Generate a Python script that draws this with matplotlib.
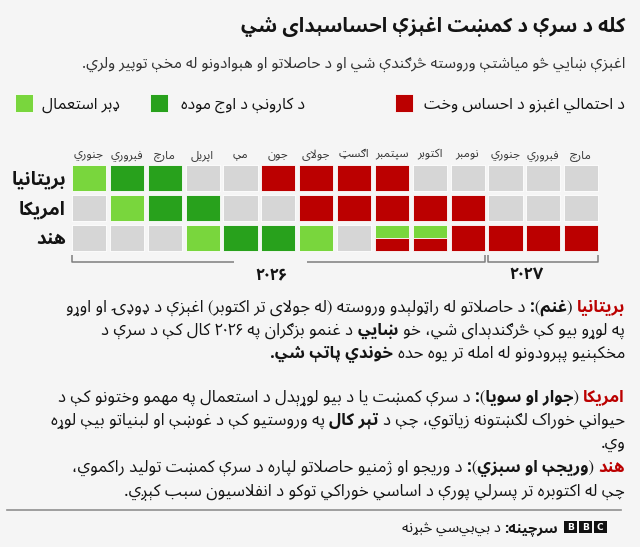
import re, os, unicodedata
import numpy as np
import matplotlib
matplotlib.use("Agg")
import matplotlib.pyplot as plt
from matplotlib import font_manager
from matplotlib.ft2font import FT2Font
from matplotlib.lines import Line2D
from matplotlib.patches import Rectangle

# ---------------- data ----------------
title = "کله د سرې د کمښت اغېزې احساسېدای شي"
subtitle = "اغېزې ښايي څو مياشتې وروسته څرګندې شي او د حاصلاتو او هېوادونو له مخې توپير ولري."
legend_labels = ["د احتمالي اغېزو د احساس وخت", "د کارونې د اوج موده", "ډېر استعمال"]
countries = ["بريتانيا", "امريکا", "هند"]
months = ["جنوري", "فبروري", "مارچ", "اپريل", "مې", "جون", "جولای", "اګسټ",
          "سپتمبر", "اکتوبر", "نومبر", "جنوري", "فبروري", "مارچ"]
years = ["۲۰۲۶", "۲۰۲۷"]
year_months = [11, 3]
# 0 = none, 1 = heavy use, 2 = peak use, 3 = impact felt, 4 = heavy use + impact
status_uk = [1, 2, 2, 0, 0, 3, 3, 3, 3, 0, 0, 0, 0, 0]
status_us = [0, 1, 2, 2, 0, 0, 3, 3, 3, 3, 3, 0, 0, 0]
status_in = [0, 0, 0, 1, 2, 2, 1, 0, 4, 4, 3, 3, 3, 3]
para_uk = [
    [("بريتانيا", "r"), (" (غنم):", "b"), (" د حاصلاتو له راټولېدو وروسته (له جولای تر اکتوبر) اغېزې د ډوډۍ او اوړو", "n")],
    [("په لوړو بيو کې څرګندېدای شي، خو ", "n"), ("ښايي", "b"), (" د غنمو بزګران په ۲۰۲۶ کال کې د سرې د", "n")],
    [("مخکېنيو پېرودونو له امله تر يوه حده ", "n"), ("خوندي پاتې شي.", "b")],
]
para_us = [
    [("امريکا", "r"), (" (جوار او سويا):", "b"), (" د سرې کمښت يا د بيو لوړېدل د استعمال په مهمو وختونو کې د", "n")],
    [("حيواني خوراک لګښتونه زياتوي، چې د ", "n"), ("تېر کال", "b"), (" په وروستيو کې د غوښې او لبنياتو بيې لوړه", "n")],
    [("وي.", "n")],
]
para_in = [
    [("هند", "r"), (" (وريجې او سبزي):", "b"), (" د وريجو او ژمنيو حاصلاتو لپاره د سرې کمښت توليد راکموي،", "n")],
    [("چې له اکتوبره تر پسرلي پورې د اساسي خوراکي توکو د انفلاسيون سبب کېږي.", "n")],
]
source = [("سرچينه:", "b"), (" د بي\u200cبي\u200cسي څېړنه", "n")]

# ---------------- colours ----------------
BG = "#f5f5f5"
RED = "#bb0000"
DARK = "#28a11c"
LIGHT = "#79d63d"
GRAY = "#d6d6d6"
INK = "#141414"

# ---------------- Arabic shaping ----------------
ALL = [title, subtitle] + legend_labels + countries + months + years
for p in (para_uk, para_us, para_in, [source]):
    for line in p:
        ALL += [s for s, _ in line]
NEED = sorted({c for s in ALL for c in s if 0x0600 <= ord(c) <= 0x06FF})
RIGHT_JOIN = set("اآأإٱدذرزژوؤډړږۍةۀەۇۆۈۋۅۉ")


def jtype(c):
    o = ord(c)
    if c in RIGHT_JOIN:
        return "R"
    if c == "ء":
        return "U"
    if 0x0620 <= o <= 0x064A or 0x066E <= o <= 0x06D3:
        return "D"
    return "U"


# Unicode presentation forms, derived from the Unicode database
PRES, PRES_LA = {}, {}
_tags = {"initial": "init", "medial": "medi", "final": "fina", "isolated": "isol"}
for cp in list(range(0xFB50, 0xFE00)) + list(range(0xFE70, 0xFF00)):
    d = unicodedata.decomposition(chr(cp))
    m = re.match(r"<(initial|medial|final|isolated)> ([0-9A-F]{4})$", d)
    if m:
        PRES.setdefault(chr(int(m.group(2), 16)), {}).setdefault(_tags[m.group(1)], cp)
        continue
    m = re.match(r"<(isolated|final)> 0644 ([0-9A-F]{4})$", d)
    if m:
        PRES_LA.setdefault((chr(int(m.group(2), 16)), m.group(1) == "final"), cp)


def open_font(path):
    from fontTools.ttLib import TTFont
    kw = {"fontNumber": 0} if path.lower().endswith((".ttc", ".otc")) else {}
    return TTFont(path, **kw)


def gsub_maps(tt):
    single = {t: {} for t in ("init", "medi", "fina")}
    ligs = {}
    if "GSUB" not in tt:
        return single, ligs
    gsub = tt["GSUB"].table
    if gsub.FeatureList is None:
        return single, ligs

    def lookups(tag):
        res = []
        for fr in gsub.FeatureList.FeatureRecord:
            if fr.FeatureTag == tag:
                for li in fr.Feature.LookupListIndex:
                    if li not in res:
                        res.append(li)
        return res

    def subtables(li):
        lk = gsub.LookupList.Lookup[li]
        for st in lk.SubTable:
            if lk.LookupType == 7:
                yield st.ExtensionLookupType, st.ExtSubTable
            else:
                yield lk.LookupType, st

    for tag in single:
        for li in lookups(tag):
            for typ, st in subtables(li):
                if typ == 1:
                    for k, v in st.mapping.items():
                        single[tag].setdefault(k, v)
    for tag in ("rlig", "liga"):
        for li in lookups(tag):
            for typ, st in subtables(li):
                if typ == 4:
                    for first, L in st.ligatures.items():
                        for lig in L:
                            if len(lig.Component) == 1:
                                ligs.setdefault((first, lig.Component[0]), lig.LigGlyph)
    return single, ligs


def resolve(tt):
    """Return forms table, lam-alef table, PUA additions, quality."""
    cmap = tt.getBestCmap()
    rev = {}
    for cp, g in sorted(cmap.items()):
        if g not in rev or 0xFB50 <= cp <= 0xFEFF:
            rev[g] = cp
    single, ligs = gsub_maps(tt)
    used = set(cmap)
    nxt = [0xE000]
    added = {}

    def cp_for(g):
        if g in rev:
            return rev[g]
        while nxt[0] in used:
            nxt[0] += 1
        cp = nxt[0]
        used.add(cp)
        rev[g] = cp
        added[cp] = g
        return cp

    forms, good, total = {}, 0, 0
    for c in NEED:
        jt = jtype(c)
        d = {"isol": ord(c)}
        base = cmap.get(ord(c))
        for tag in ("init", "medi", "fina"):
            want = jt == "D" or (jt == "R" and tag == "fina")
            pc = PRES.get(c, {}).get(tag)
            if pc and pc in cmap:
                d[tag] = pc
            elif base and base in single[tag]:
                d[tag] = cp_for(single[tag][base])
            else:
                d[tag] = ord(c)
                if want and base:
                    total += 1
                continue
            if want:
                good += 1
                total += 1
        forms[c] = d
    lamalef = {}
    lam = cmap.get(ord("ل"))
    for al in "اأإآ":
        ag = cmap.get(ord(al))
        if lam is None or ag is None:
            continue
        for joined in (False, True):
            cp = PRES_LA.get((al, joined))
            if cp and cp in cmap:
                lamalef[(al, joined)] = cp
                continue
            lf = single["medi" if joined else "init"].get(lam, lam)
            af = single["fina"].get(ag, ag)
            for pair in ((lf, af), (lf, ag), (lam, ag), (lam, af)):
                if pair in ligs:
                    lamalef[(al, joined)] = cp_for(ligs[pair])
                    break
    q = good / total if total else 0
    return forms, lamalef, added, q


def build_font(src, wght, famname, outpath):
    tt = open_font(src)
    if "fvar" in tt:
        from fontTools.varLib import instancer
        loc = {}
        for a in tt["fvar"].axes:
            v = a.defaultValue
            if a.axisTag == "wght":
                v = min(max(wght, a.minValue), a.maxValue)
            loc[a.axisTag] = v
        tt = instancer.instantiateVariableFont(tt, loc)
    forms, lamalef, added, q = resolve(tt)
    if added:
        for t in tt["cmap"].tables:
            if t.isUnicode() and t.format in (4, 12):
                t.cmap.update(added)
    name = tt["name"]
    for rec in list(name.names):
        if rec.nameID in (1, 4, 16, 21):
            name.setName(famname, rec.nameID, rec.platformID, rec.platEncID, rec.langID)
        elif rec.nameID == 6:
            name.setName(famname.replace(" ", ""), rec.nameID, rec.platformID, rec.platEncID, rec.langID)
        elif rec.nameID in (2, 17, 22):
            name.setName("Regular", rec.nameID, rec.platformID, rec.platEncID, rec.langID)
    tt.save(outpath)
    font_manager.fontManager.addfont(outpath)
    return forms, lamalef


def shape(s, tables):
    forms, lamalef = tables
    out = []
    i, n = 0, len(s)
    while i < n:
        c = s[i]
        t = jtype(c)
        if t == "U" or c not in forms:
            if c != "\u200c":
                out.append(c)
            i += 1
            continue
        pj = i > 0 and jtype(s[i - 1]) == "D"
        if c == "ل" and i + 1 < n and (s[i + 1], pj) in lamalef:
            out.append(chr(lamalef[(s[i + 1], pj)]))
            i += 2
            continue
        nj = t == "D" and i + 1 < n and jtype(s[i + 1]) in ("D", "R")
        form = "medi" if (pj and nj) else "fina" if pj else "init" if nj else "isol"
        out.append(chr(forms[c][form]))
        i += 1
    r = "".join(out)[::-1]
    r = r.translate({ord("("): ")", ord(")"): "("})
    r = re.sub(r"[0-9\u0660-\u0669\u06F0-\u06F9]+", lambda m: m.group(0)[::-1], r)
    return r


fams = {}
for f in font_manager.fontManager.ttflist:
    fams.setdefault(f.name, []).append(f)


def coverage_missing(path):
    try:
        cm = FT2Font(path).get_charmap()
    except Exception:
        return 99
    return sum(ord(c) not in cm for c in NEED)


prefs = ["Noto Sans Arabic UI", "Noto Sans Arabic", "Vazirmatn", "IBM Plex Sans Arabic",
         "DejaVu Sans", "FreeSerif"]
REG, BOLD = "DejaVu Sans", "DejaVu Sans"
T_REG = T_BOLD = ({}, {})
for fam_name in prefs:
    ents = [e for e in fams.get(fam_name, []) if e.style == "normal"
            and coverage_missing(e.fname) <= 1]
    if not ents:
        continue
    try:
        r = min(ents, key=lambda e: abs(int(e.weight) - 400))
        b = min(ents, key=lambda e: abs(int(e.weight) - 700))
        q = resolve(open_font(r.fname))[3]
        if q < 0.9:
            continue
        T_REG = build_font(r.fname, 400, "PashShapeReg", os.path.abspath("pash_reg.ttf"))
        T_BOLD = build_font(b.fname, 700, "PashShapeBold", os.path.abspath("pash_bold.ttf"))
        REG, BOLD = "PashShapeReg", "PashShapeBold"
        break
    except Exception:
        continue


def vis(s, bold=False):
    return shape(s, T_BOLD if bold else T_REG)


def fam(bold=False):
    return [BOLD if bold else REG, "FreeSerif", "DejaVu Sans"]


# ---------------- figure ----------------
W, H = 640, 547
fig = plt.figure(figsize=(W / 100, H / 100), dpi=100, facecolor=BG)
renderer = fig.canvas.get_renderer()

deco = fig.add_axes([0, 0, 1, 1])
deco.set_xlim(0, W)
deco.set_ylim(H, 0)
deco.axis("off")


def ftext(x, y, s, bold=False, size=11, color=INK, ha="right", va="baseline"):
    return fig.text(x / W, 1 - y / H, vis(s, bold), ha=ha, va=va, fontsize=size,
                    family=fam(bold), color=color)


def space_w(size, bold):
    a = fig.text(0, 0, "ا ا", fontsize=size, family=fam(bold))
    b = fig.text(0, 0, "اا", fontsize=size, family=fam(bold))
    w = a.get_window_extent(renderer).width - b.get_window_extent(renderer).width
    a.remove()
    b.remove()
    return w


def rich_line(segs, xr, yb, size):
    x = xr
    for txt, sty in segs:
        bold = sty in ("b", "r")
        lead = len(txt) - len(txt.lstrip(" "))
        trail = len(txt) - len(txt.rstrip(" "))
        sw = space_w(size, bold)
        x -= lead * sw
        t = ftext(x, yb, txt.strip(" "), bold=bold, size=size,
                  color=RED if sty == "r" else INK)
        x -= t.get_window_extent(renderer).width + trail * sw


# title / subtitle
ftext(625, 32, title, bold=True, size=14.4)
ftext(625, 68, subtitle, size=11.2, color="#333333")

# legend
leg_colors = [RED, DARK, LIGHT]
leg_text_right = [625, 305, 120]
leg_box_left = [395, 150, 15]
for lab, colr, xr, xb in zip(legend_labels, leg_colors, leg_text_right, leg_box_left):
    deco.add_patch(Rectangle((xb, 93.5), 18, 18, facecolor=colr, edgecolor="white", linewidth=0.6))
    ftext(xr, 109, lab, size=11.5)

# grid
ncol = len(months)
pitch = 37.86
gx0 = 70.1
ax = fig.add_axes([gx0 / W, 1 - 252.75 / H, ncol * pitch / W, 90 / H])
ax.set_xlim(-0.5, ncol - 0.5)
ax.set_ylim(len(countries) - 0.5, -0.5)
ax.patch.set_alpha(0)
for sp in ax.spines.values():
    sp.set_visible(False)
cols = np.arange(ncol)
cw, ch = 0.9, 0.87
color_of = {0: GRAY, 1: LIGHT, 2: DARK, 3: RED}
for r, st in enumerate([status_uk, status_us, status_in]):
    st = np.array(st)
    for code, colr in color_of.items():
        m = st == code
        if m.any():
            ax.bar(cols[m], ch, bottom=r - ch / 2, width=cw, color=colr,
                   edgecolor="white", linewidth=0.6)
    m = st == 4
    if m.any():
        ax.bar(cols[m], ch / 2, bottom=r - ch / 2, width=cw, color=LIGHT,
               edgecolor="white", linewidth=0.6)
        ax.bar(cols[m], ch / 2, bottom=r, width=cw, color=RED,
               edgecolor="white", linewidth=0.6)
ax.set_xticks(cols)
ax.set_xticklabels([vis(mn) for mn in months], family=fam(), fontsize=8.5, color="#3a3a3a")
ax.xaxis.tick_top()
ax.tick_params(axis="x", length=0, pad=1.5)
ax.set_yticks(range(len(countries)))
ax.set_yticklabels([vis(c, True) for c in countries], family=fam(True), fontsize=13.5, color=INK)
ax.tick_params(axis="y", length=0, pad=3)

# year brackets
y_line, y_tick = 2.81, 2.575
year_label_x = [4.8, 11.55]
start = 0
for i, (yr, n) in enumerate(zip(years, year_months)):
    x0, x1 = start - 0.45, start + n - 1 + 0.45
    kw = dict(color="#7d7d7d", lw=1.1, clip_on=False, solid_capstyle="butt")
    if i == 0:
        g0, g1 = year_label_x[i] - 0.96, year_label_x[i] + 0.96
        ax.plot([x0, x0, g0], [y_tick, y_line, y_line], **kw)
        ax.plot([g1, x1, x1], [y_line, y_line, y_tick], **kw)
    else:
        ax.plot([x0, x0, x1, x1], [y_tick, y_line, y_line, y_tick], **kw)
    ax.text(year_label_x[i], 3.24, vis(yr, True), ha="center", va="center",
            family=fam(True), fontsize=12, color=INK, clip_on=False)
    start += n

# paragraphs
line_h = 23
for para, y0 in ((para_uk, 312), (para_us, 402), (para_in, 472)):
    for k, segs in enumerate(para):
        rich_line(segs, 625, y0 + k * line_h, 12.0)

# footer
deco.add_line(Line2D([7, 621], [510, 510], color="#8f8f8f", lw=1.2))
for k, letter in enumerate("BBC"):
    bx = 564 + k * 15
    deco.add_patch(Rectangle((bx, 520.5), 12.5, 12.5, facecolor="#111111", edgecolor="none"))
    deco.text(bx + 6.25, 527, letter, ha="center", va="center", color="white",
              fontsize=6.5, fontweight="bold", family="DejaVu Sans")
rich_line(source, 558, 532, 10.5)

fig.savefig("out.png", dpi=100, facecolor=BG)
